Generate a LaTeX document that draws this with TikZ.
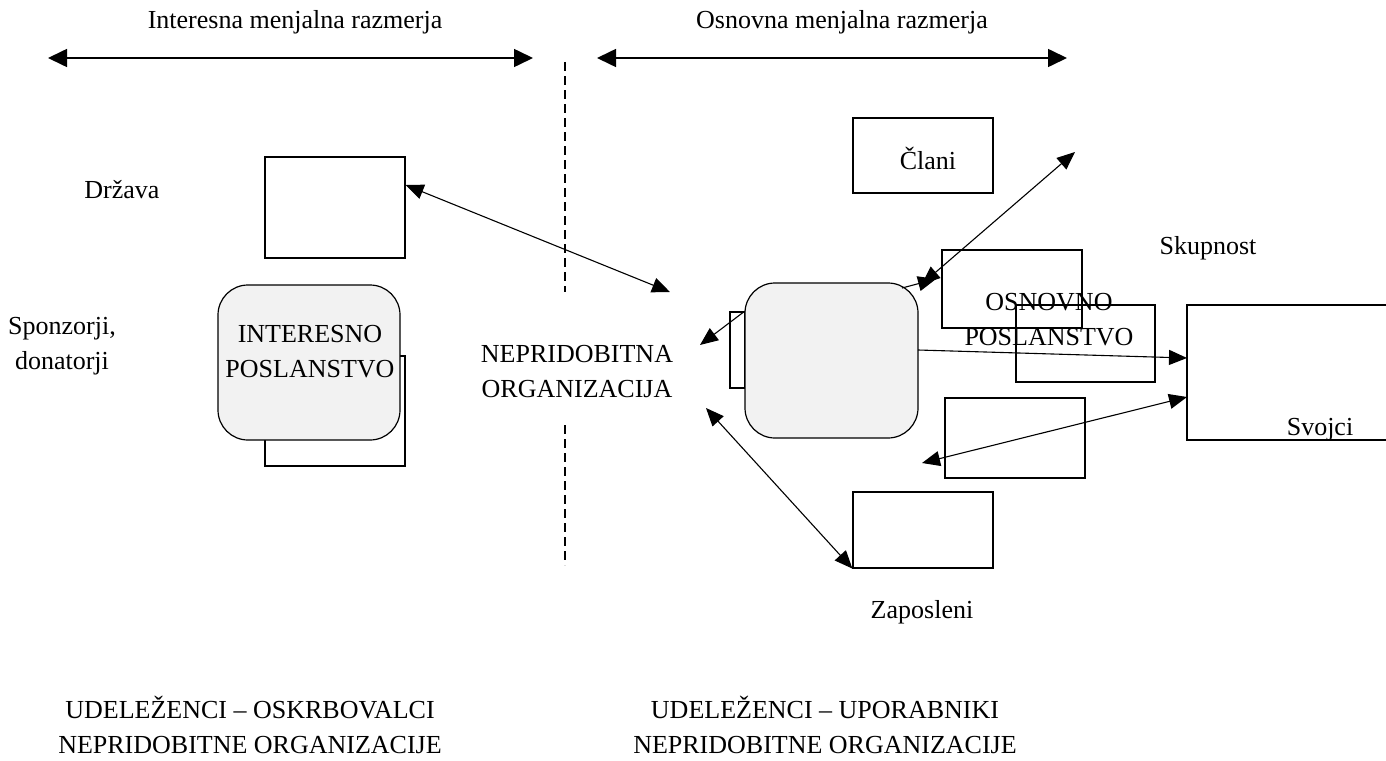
\documentclass[tikz,border=0pt]{standalone}
\usepackage{fontspec}
\setmainfont{Liberation Serif}
\usetikzlibrary{arrows.meta}
\begin{document}
\begin{tikzpicture}[x=1pt,y=-1pt,
  txt/.style={font=\fontsize{26}{35}\selectfont, inner sep=0pt, align=center},
  box/.style={draw, line width=1.2pt, inner sep=0pt},
  rbox/.style={draw, line width=1.2pt, fill=gray!10, rounded corners=30pt, inner sep=0pt},
  conn/.style={line width=1.1pt, -{Triangle[length=18pt,width=15pt]}},
  dconn/.style={line width=1.1pt, {Triangle[length=18pt,width=15pt]}-{Triangle[length=18pt,width=15pt]}},
  bigdconn/.style={line width=1.6pt, {Triangle[length=19pt,width=18pt]}-{Triangle[length=19pt,width=18pt]}}
]
\useasboundingbox (0,0) rectangle (1386,760);
% headings
\node[txt] (hl) at (295,22) {Interesna menjalna razmerja};
\node[txt] (hr) at (842,22) {Osnovna menjalna razmerja};
\coordinate (hlA) at (48,58); \coordinate (hlB) at (533,58);
\coordinate (hrA) at (597,58); \coordinate (hrB) at (1067,58);
\draw[bigdconn] (hlA) -- (hlB);
\draw[bigdconn] (hrA) -- (hrB);
% dashed divider
\coordinate (d1) at (565,62); \coordinate (d2) at (565,292);
\coordinate (d3) at (565,425); \coordinate (d4) at (565,565);
\draw[line width=2pt, dash pattern=on 9pt off 5pt] (d1) -- (d2);
\draw[line width=2pt, dash pattern=on 9pt off 5pt] (d3) -- (d4);
% left side
\node[txt] (drzt) at (122,190) {Država};
\node[box, minimum width=140pt, minimum height=101pt] (drz) at (335,207.5) {};
\node[txt] (spon) at (62,346) {Sponzorji,\\donatorji};
\node[box, minimum width=140pt, minimum height=110pt] (ib) at (335,411) {};
\node[rbox, minimum width=182pt, minimum height=155pt] (ip) at (309,362.5) {};
\node[txt] (ipt) at (310,352) {INTERESNO\\POSLANSTVO};
% center
\node[txt] (npo) at (577,372) {NEPRIDOBITNA\\ORGANIZACIJA};
\coordinate (npoNE) at (670,292);
\coordinate (npoW) at (700,345);
\coordinate (npoSE) at (706,408);
\draw[dconn] (drz.east |- 0,185) -- (npoNE);
% right side
\node[box, minimum width=15pt, minimum height=76pt] (sb) at (737.5,350) {};
\node[rbox, minimum width=173pt, minimum height=155pt] (op) at (831.5,360.5) {};
\node[box, minimum width=140pt, minimum height=75pt] (cl) at (923,155.5) {};
\node[txt] (clt) at (928,158) {Člani};
\node[box, minimum width=140pt, minimum height=78pt] (ob1) at (1012,289) {};
\node[box, minimum width=139pt, minimum height=77pt] (ob2) at (1085.5,343.5) {};
\node[txt] (obt) at (1049,320) {OSNOVNO\\POSLANSTVO};
\node[txt] (skt) at (1208,248) {Skupnost};
\coordinate (skNE) at (1386,305);
\coordinate (skNW) at (1187,305);
\coordinate (skSW) at (1187,440);
\coordinate (skSE) at (1386,440);
\draw[line width=1.2pt] (skNE) -- (skNW) -- (skSW) -- (skSE);
\node[txt] (svt) at (1320,430) {Svojci};
\node[box, minimum width=140pt, minimum height=80pt] (b3) at (1015,438) {};
\node[box, minimum width=140pt, minimum height=76pt] (zap) at (923,530) {};
\node[txt] (zapt) at (922,612) {Zaposleni};
% connectors on right
\coordinate (clA) at (1075,152);
\coordinate (clB) at (922,284);
\coordinate (opNE) at (902,288);
\coordinate (opE) at (918,350);
\coordinate (opW) at (745,311);
\coordinate (skA) at (1187,358);
\coordinate (skB) at (1187,397);
\coordinate (b3W) at (922,463);
\draw[conn] (opNE) -- (936,279);
\draw[dconn] (clA) -- (clB);
\draw[conn] (opW) -- (npoW);
\draw[conn] (opE) -- (skA);
\draw[dconn] (skB) -- (b3W);
\draw[dconn] (npoSE) -- (zap.south west);
% bottom
\node[txt] (bl) at (250,725) {UDELEŽENCI – OSKRBOVALCI\\NEPRIDOBITNE ORGANIZACIJE};
\node[txt] (br) at (825,725) {UDELEŽENCI – UPORABNIKI\\NEPRIDOBITNE ORGANIZACIJE};
\end{tikzpicture}
\end{document}
